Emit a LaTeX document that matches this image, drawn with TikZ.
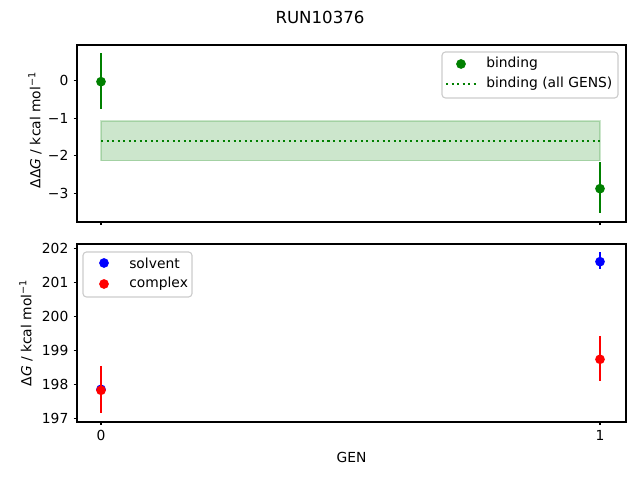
\documentclass[tikz,border=0pt]{standalone}
\usepackage{fontspec}
\setmainfont{DejaVu Sans}
\usetikzlibrary{positioning}
\definecolor{mplgreen}{HTML}{008000}
\definecolor{mplblue}{HTML}{0000FF}
\definecolor{mplred}{HTML}{FF0000}
\tikzstyle{axesframe}=[line width=0.8bp,black]
\tikzstyle{tick}=[line width=0.8bp,black]
\tikzstyle{ticklabel}=[inner sep=0,font=\fontsize{10}{12}\selectfont]
\tikzstyle{marker}=[circle,inner sep=0,minimum size=7bp]
\tikzstyle{errbar}=[line width=1.5bp]
\tikzstyle{legendframe}=[draw=black!20,fill=white,fill opacity=0.8,rounded corners=2.5bp,line width=0.8bp]

\begin{document}
\begin{tikzpicture}[x=0.01in,y=0.01in]

      \tikzstyle{every node}=[font=\fontsize{10}{12}\selectfont]
      \useasboundingbox (0,0) rectangle (640,480);

      \node[font=\fontsize{12}{14}\selectfont] (title) at (320,463) {RUN10376};

      % top panel: binding
      \fill[mplgreen,fill opacity=0.2] (101,319.3) rectangle (600,359);
      \draw[mplgreen,draw opacity=0.2,line width=1bp] (101,319.3) rectangle (600,359);
      \coordinate (all_gens_start) at (101,339.3);
      \coordinate (all_gens_end) at (600,339.3);
      \draw[mplgreen,line width=1.5bp,dash pattern=on 1.5bp off 2.475bp] (all_gens_start) -- (all_gens_end);

      \coordinate (binding_0_top) at (101,426.7);
      \coordinate (binding_0_bot) at (101,371.3);
      \coordinate (binding_1_top) at (600,317.7);
      \coordinate (binding_1_bot) at (600,266.7);
      \draw[errbar,mplgreen] (binding_0_top) -- (binding_0_bot);
      \draw[errbar,mplgreen] (binding_1_top) -- (binding_1_bot);
      \node[marker,fill=mplgreen] (binding_0) at (101,398.3) {};
      \node[marker,fill=mplgreen] (binding_1) at (600,291.3) {};

      \draw[axesframe] (77,258) rectangle (626,435);
      \foreach \v/\y in {0/399.3,−1/361.8,−2/324.3,−3/286.8} {
        \draw[tick] (73.5,\y) -- (77,\y);
        \node[ticklabel,anchor=east] at (68.6,\y) {\v};
      }
      \foreach \x in {101,600} \draw[tick] (\x,258) -- (\x,254.5);
      \node[rotate=90,anchor=south,inner sep=0] (ylabel_top) at (42,350) {ΔΔ\textit{G} / kcal mol\textsuperscript{−1}};

      \draw[legendframe] (442,382) rectangle (618,428);
      \node[marker,fill=mplgreen] (legend_binding) at (461,416) {};
      \node[anchor=west,inner sep=0] (legend_binding_text) at (486,416) {binding};
      \coordinate (legend_all_start) at (446,396);
      \coordinate (legend_all_end) at (476,396);
      \draw[mplgreen,line width=1.5bp,dash pattern=on 1.5bp off 2.475bp] (legend_all_start) -- (legend_all_end);
      \node[anchor=west,inner sep=0] (legend_all_text) at (486,396) {binding (all GENS)};

      % bottom panel: solvent and complex
      \coordinate (solvent_0_top) at (101,93.5);
      \coordinate (solvent_0_bot) at (101,87.9);
      \coordinate (solvent_1_top) at (600,227.7);
      \coordinate (solvent_1_bot) at (600,210.7);
      \draw[errbar,mplblue] (solvent_0_top) -- (solvent_0_bot);
      \node[marker,fill=mplblue] (solvent_0) at (101,90.7) {};
      \draw[errbar,mplblue] (solvent_1_top) -- (solvent_1_bot);
      \node[marker,fill=mplblue] (solvent_1) at (600,218.3) {};

      \coordinate (complex_0_top) at (101,114);
      \coordinate (complex_0_bot) at (101,66.7);
      \coordinate (complex_1_top) at (600,144);
      \coordinate (complex_1_bot) at (600,99.3);
      \draw[errbar,mplred] (complex_0_top) -- (complex_0_bot);
      \node[marker,fill=mplred] (complex_0) at (101,89.7) {};
      \draw[errbar,mplred] (complex_1_top) -- (complex_1_bot);
      \node[marker,fill=mplred] (complex_1) at (600,120.7) {};

      \draw[axesframe] (77,58) rectangle (626,236);
      \foreach \v [count=\k from 0] in {197,198,199,200,201,202} {
        \draw[tick] (73.5,61.7+34*\k) -- (77,61.7+34*\k);
        \node[ticklabel,anchor=east] at (68.6,61.7+34*\k) {\v};
      }
      \foreach \x/\g in {101/0,600/1} {
        \draw[tick] (\x,58) -- (\x,54.5);
        \node[ticklabel,anchor=north] at (\x,49.6) {\g};
      }
      \node[rotate=90,anchor=south,inner sep=0] (ylabel_bot) at (33,147) {Δ\textit{G} / kcal mol\textsuperscript{−1}};
      \node (xlabel) at (351.5,23) {GEN};

      \draw[legendframe] (83,183) rectangle (192,228);
      \node[marker,fill=mplblue] (legend_solvent) at (104,217) {};
      \node[anchor=west,inner sep=0] (legend_solvent_text) at (129,217) {solvent};
      \node[marker,fill=mplred] (legend_complex) at (104,196) {};
      \node[anchor=west,inner sep=0] (legend_complex_text) at (129,196) {complex};
    \end{tikzpicture}
\end{document}
